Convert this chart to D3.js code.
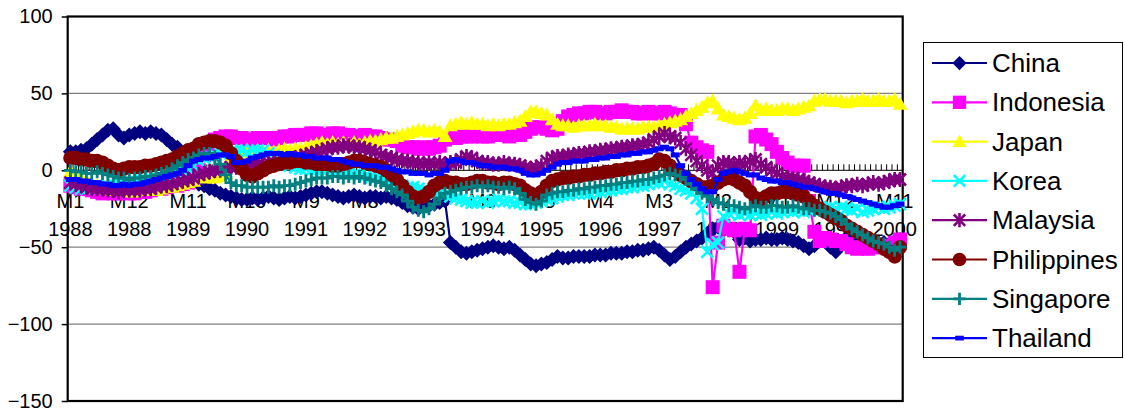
<!DOCTYPE html>
<html>
<head>
<meta charset="utf-8">
<script src="https://cdn.jsdelivr.net/npm/d3@7"></script>
<style>
  html, body { margin: 0; padding: 0; background: #fff; }
  svg { display: block; font-family: "Liberation Sans", Arial, sans-serif; }
</style>
</head>
<body>
<svg id="chart" width="1125" height="412"></svg>
<script>
// ---------- DATA ----------
const years = [1988,1989,1990,1991,1992,1993,1994,1995,1996,1997,1998,1999,2000];
const monthNames = ["M1","M2","M3","M4","M5","M6","M7","M8","M9","M10","M11","M12"];
const categories = years.flatMap(y => monthNames.map(m => m + " " + y));

const tickLabels = ["M1 1988","M12 1988","M11 1989","M10 1990","M9 1991","M8 1992","M7 1993",
  "M6 1994","M5 1995","M4 1996","M3 1997","M2 1998","M1 1999","M12 1999","M11 2000"];

const yTicks = [100, 50, 0, -50, -100, -150];

const seriesNames = ["China","Indonesia","Japan","Korea","Malaysia","Philippines","Singapore","Thailand"];

const china = [
  12,12,13,14,17,20,23,26,27,23,21,23,
  24,25,24,25,24,23,20,17,15,11,4,-5,
  -9,-10,-12,-13,-15,-16,-17,-18,-19,-19,-18,-19,
  -18,-17,-18,-19,-18,-17,-18,-17,-16,-15,-14,-14,
  -15,-16,-17,-18,-17,-16,-17,-18,-17,-17,-18,-17,
  -18,-19,-21,-23,-24,-25,-24,-23,-22,-21,-20,-47,
  -50,-53,-54,-53,-52,-51,-50,-49,-50,-51,-50,-52,
  -55,-58,-61,-62,-61,-60,-58,-56,-57,-57,-56,-56,
  -56,-56,-55,-55,-55,-54,-54,-54,-53,-53,-52,-52,
  -51,-50,-52,-55,-58,-56,-53,-50,-48,-46,-44,-41,
  -38,-37,-36,-38,-40,-45,-44,-46,-45,-45,-44,-45,
  -45,-44,-45,-46,-47,-49,-51,-49,-46,-45,-50,-53,
  -47,-44,-46,-48,-47,-48,-49,-48,-47,-48,-46,-45
];
const indonesia = [
  -10,-11,-12,-12,-13,-14,-15,-14,-15,-15,-14,-15,
  -15,-14,-14,-13,-12,-12,-11,-10,-10,-9,-8,-6,
  0,10,17,20,21,22,22,21,21,20,20,21,
  21,21,20,21,22,22,23,23,23,24,24,23,
  23,24,24,23,23,22,22,23,22,22,21,20,
  20,19,16,15,15,14,15,14,15,16,20,21,
  21,22,22,22,23,22,22,23,23,23,22,23,
  23,25,27,28,28,27,26,27,32,35,36,37,
  37,38,38,37,37,38,38,39,38,38,37,37,
  38,37,37,38,37,36,36,30,18,15,13,12,
  -76,-47,-36,-38,-39,-66,-38,-39,22,23,20,17,
  12,8,5,3,3,3,-20,-40,-46,-44,-45,-46,
  -46,-48,-50,-51,-50,-51,-50,-50,-49,-50,-47,-45
];
const japan = [
  -1,-3,-5,-7,-9,-10,-11,-12,-13,-13,-13,-14,
  -14,-13,-13,-12,-13,-12,-11,-11,-10,-9,-8,-7,
  -4,-5,-3,-5,-4,-2,8,11,12,13,12,13,
  12,13,12,13,14,13,14,14,15,16,17,18,
  17,18,17,18,17,18,17,18,19,19,20,21,
  21,22,23,24,25,26,26,25,26,25,22,29,
  30,31,30,31,30,30,29,30,29,30,30,31,
  32,35,38,38,37,36,33,30,29,29,28,29,
  29,29,30,29,29,28,28,27,27,27,27,28,
  28,28,29,30,31,32,33,35,37,39,41,44,
  45,40,36,35,34,33,34,37,42,39,40,39,
  39,40,40,39,40,41,42,45,46,46,45,45,
  45,44,45,45,46,45,45,46,45,45,46,43
];
const korea = [
  -10,-11,-12,-12,-11,-12,-11,-10,-9,-9,-8,-7,
  -7,-6,-6,-5,-5,-4,-3,-2,-1,0,1,3,
  6,8,9,10,11,12,12,13,13,12,13,13,
  13,11,9,7,5,3,2,1,1,0,0,0,
  0,-1,-1,-2,-2,-3,-3,-4,-5,-5,-6,-7,
  -8,-9,-10,-11,-11,-12,-13,-14,-15,-15,-16,-17,
  -18,-19,-20,-21,-21,-20,-21,-20,-19,-20,-20,-21,
  -21,-22,-22,-21,-20,-19,-18,-17,-16,-16,-15,-15,
  -15,-15,-14,-14,-13,-13,-12,-12,-11,-11,-10,-10,
  -9,-8,-8,-7,-9,-10,-12,-13,-15,-18,-25,-53,
  -48,-47,-30,-28,-27,-29,-28,-29,-28,-29,-28,-27,
  -28,-27,-26,-27,-26,-27,-26,-25,-26,-25,-24,-25,
  -24,-25,-26,-25,-27,-26,-25,-24,-25,-24,-23,-22
];
const malaysia = [
  -8,-9,-10,-11,-12,-12,-12,-13,-13,-14,-13,-13,
  -13,-13,-12,-12,-11,-10,-10,-9,-8,-7,-6,-5,
  -3,-2,-1,0,0,1,2,2,3,3,4,4,
  4,5,5,6,7,7,8,9,10,11,12,13,
  14,15,15,16,16,15,15,14,13,12,10,9,
  8,7,6,6,5,5,4,5,4,5,4,5,
  5,7,9,8,6,5,5,4,4,5,4,4,
  3,2,1,2,3,6,8,9,9,10,10,11,
  11,12,12,13,13,14,14,15,15,16,16,17,
  18,20,22,24,22,21,18,14,10,6,3,0,
  -2,3,5,5,4,5,4,6,7,4,2,0,
  -2,-4,-5,-5,-6,-7,-8,-9,-10,-11,-11,-12,
  -11,-10,-10,-9,-10,-9,-8,-9,-8,-7,-6,-6
];
const philippines = [
  8,8,7,7,6,6,5,3,1,0,1,2,
  2,2,3,3,4,5,6,7,9,11,13,14,
  17,18,19,19,18,16,11,6,1,-3,-4,-2,
  0,2,3,4,5,5,6,6,5,5,4,4,
  4,3,3,4,5,6,6,5,4,3,2,0,
  -3,-6,-10,-14,-17,-18,-17,-14,-10,-8,-7,-8,
  -8,-9,-9,-8,-7,-7,-8,-8,-9,-8,-8,-9,
  -10,-13,-15,-16,-14,-10,-7,-6,-5,-5,-4,-4,
  -3,-3,-2,-2,-1,-1,0,0,1,1,2,2,
  3,4,7,6,3,0,-3,-5,-7,-9,-11,-11,
  -10,-8,-6,-5,-6,-8,-10,-14,-18,-19,-17,-15,
  -15,-14,-14,-15,-16,-17,-20,-23,-25,-27,-29,-31,
  -33,-36,-38,-40,-42,-44,-46,-48,-51,-53,-56,-50
];
const singapore = [
  0,-1,-1,-2,-2,-1,-2,-3,-4,-5,-5,-6,
  -5,-5,-4,-4,-3,-2,-1,1,3,5,7,8,
  10,11,11,9,4,-3,-8,-10,-10,-11,-11,-11,
  -11,-11,-10,-11,-10,-10,-9,-8,-7,-6,-5,-5,
  -5,-4,-4,-5,-4,-5,-4,-5,-6,-7,-8,-10,
  -12,-14,-16,-20,-24,-26,-27,-25,-22,-18,-15,-14,
  -13,-12,-11,-11,-10,-11,-10,-11,-11,-12,-11,-12,
  -15,-19,-21,-22,-20,-16,-15,-14,-14,-13,-13,-12,
  -12,-11,-11,-10,-10,-9,-9,-8,-8,-7,-7,-6,
  -6,-5,-4,-3,-2,-3,-4,-6,-9,-12,-15,-17,
  -19,-21,-22,-23,-23,-24,-25,-24,-23,-24,-24,-23,
  -23,-24,-24,-23,-24,-25,-25,-26,-26,-27,-28,-30,
  -32,-35,-38,-40,-42,-44,-46,-47,-48,-50,-52,-50
];
const thailand = [
  -6,-6,-7,-7,-8,-8,-9,-9,-10,-10,-9,-10,
  -9,-9,-8,-7,-6,-5,-4,-3,-2,0,3,6,
  7,8,8,9,10,10,9,5,5,6,8,9,
  10,11,11,11,10,11,10,10,9,9,8,8,
  8,7,7,6,5,4,4,3,3,3,2,2,
  1,0,-1,-1,-2,-2,-2,-3,-2,-2,0,6,
  7,6,5,5,4,3,3,2,2,2,1,1,
  0,-2,-3,-3,-2,0,2,4,5,5,6,6,
  6,7,7,8,8,9,9,10,10,11,11,12,
  12,13,14,15,14,10,3,-2,-6,-9,-12,-14,
  -14,-6,-2,-1,0,-1,-2,-3,-3,-5,-6,-7,
  -7,-8,-8,-9,-10,-11,-11,-12,-13,-14,-15,-15,
  -16,-17,-18,-19,-20,-21,-22,-23,-24,-24,-23,-22
];

const seriesValues = [china, indonesia, japan, korea, malaysia, philippines, singapore, thailand];
const seriesColors = ["#000080","#FF00FF","#FFFF00","#00FFFF","#800080","#800000","#008080","#0000FF"];
const seriesMarkers = ["diamond","square","triangle","x","star","circle","plus","dash"];

// ---------- LAYOUT ----------
const svg = d3.select("#chart");
const plot = { left: 67.7, right: 902.7, top: 16.5, bottom: 401 };

svg.append("rect").attr("width",1125).attr("height",412).attr("fill","#fff");

const x = d3.scaleBand().domain(categories).range([plot.left, plot.right]).padding(0);
const cx = c => x(c) + x.bandwidth()/2;
const y = d3.scaleLinear().domain([-150, 100]).range([plot.bottom, plot.top]);

// gridlines
svg.append("g").selectAll("line").data(yTicks.filter(v => v !== 100 && v !== -150 && v !== 0))
  .join("line")
  .attr("x1", plot.left).attr("x2", plot.right)
  .attr("y1", d => y(d)).attr("y2", d => y(d))
  .attr("stroke", "#808080").attr("stroke-width", 1.2);

// y axis labels + ticks
const yAxis = d3.axisLeft(y).tickValues(yTicks).tickSize(6).tickPadding(9).tickFormat(d3.format("d"));
const gy = svg.append("g").attr("transform", `translate(${plot.left},0)`).call(yAxis);
gy.select(".domain").remove();
gy.selectAll(".tick line").attr("stroke","#000").attr("stroke-width",1.5);
gy.selectAll(".tick text").attr("font-size", 20).attr("fill","#000")
  .attr("font-family", "'Liberation Sans', Arial, sans-serif");

// category axis at 0
const y0 = y(0);
svg.append("line").attr("x1", plot.left).attr("x2", plot.right)
  .attr("y1", y0).attr("y2", y0).attr("stroke", "#000").attr("stroke-width", 1);
svg.append("g").selectAll("line").data(categories.concat(["__end"]))
  .join("line")
  .attr("x1", (d,i) => plot.left + i * x.bandwidth())
  .attr("x2", (d,i) => plot.left + i * x.bandwidth())
  .attr("y1", y0 - 6).attr("y2", y0)
  .attr("stroke", "#000").attr("stroke-width", 1);

// category tick labels (two lines)
const lab = svg.append("g").selectAll("text").data(tickLabels).join("text")
  .attr("x", d => cx(d)).attr("text-anchor", "middle")
  .attr("font-size", 20).attr("fill", "#000");
lab.append("tspan").attr("x", d => cx(d)).attr("y", y0 + 38).text(d => d.split(" ")[0]);
lab.append("tspan").attr("x", d => cx(d)).attr("y", y0 + 66).text(d => d.split(" ")[1]);

// plot border
svg.append("rect").attr("x", plot.left).attr("y", plot.top)
  .attr("width", plot.right - plot.left).attr("height", plot.bottom - plot.top)
  .attr("fill", "none").attr("stroke", "#000").attr("stroke-width", 2.2);

// ---------- MARKERS ----------
function drawMarker(g, type, color, px, py, scale) {
  const s = scale || 1;
  if (type === "diamond") {
    const r = 7.5*s;
    g.append("path").attr("d", `M${px},${py-r}L${px+r},${py}L${px},${py+r}L${px-r},${py}Z`).attr("fill", color);
  } else if (type === "square") {
    const r = 7*s;
    g.append("rect").attr("x", px-r).attr("y", py-r).attr("width", 2*r).attr("height", 2*r).attr("fill", color);
  } else if (type === "triangle") {
    const r = 7.5*s;
    g.append("path").attr("d", `M${px},${py-r}L${px+r},${py+r*0.75}L${px-r},${py+r*0.75}Z`).attr("fill", color);
  } else if (type === "circle") {
    g.append("circle").attr("cx", px).attr("cy", py).attr("r", 7.2*s).attr("fill", color);
  } else if (type === "x") {
    const r = 6*s;
    g.append("path").attr("d", `M${px-r},${py-r}L${px+r},${py+r}M${px-r},${py+r}L${px+r},${py-r}`)
      .attr("stroke", color).attr("stroke-width", 2.6).attr("fill", "none");
  } else if (type === "star") {
    const r = 6*s;
    g.append("path").attr("d", `M${px-r},${py-r}L${px+r},${py+r}M${px-r},${py+r}L${px+r},${py-r}M${px},${py-r*1.25}L${px},${py+r*1.25}`)
      .attr("stroke", color).attr("stroke-width", 2.6).attr("fill", "none");
  } else if (type === "plus") {
    const r = 6.5*s;
    g.append("path").attr("d", `M${px-r},${py}L${px+r},${py}M${px},${py-r}L${px},${py+r}`)
      .attr("stroke", color).attr("stroke-width", 2.8).attr("fill", "none");
  } else if (type === "dash") {
    g.append("rect").attr("x", px-4.5*s).attr("y", py-2.5*s).attr("width", 9*s).attr("height", 5*s).attr("fill", color);
  }
}

// ---------- SERIES ----------
const line = d3.line().x((d,i) => cx(categories[i])).y(d => y(d));
seriesValues.forEach((vals, si) => {
  const g = svg.append("g");
  g.append("path").datum(vals).attr("d", line)
    .attr("fill", "none").attr("stroke", seriesColors[si]).attr("stroke-width", 2.2);
  vals.forEach((v, i) => drawMarker(g, seriesMarkers[si], seriesColors[si], cx(categories[i]), y(v)));
});

// ---------- LEGEND ----------
const leg = svg.append("g");
leg.append("rect").attr("x", 923.5).attr("y", 42.5).attr("width", 199).attr("height", 315)
  .attr("fill", "#fff").attr("stroke", "#000").attr("stroke-width", 1);
seriesNames.forEach((name, i) => {
  const ly = 63 + i * 39.3;
  leg.append("line").attr("x1", 932).attr("x2", 987).attr("y1", ly).attr("y2", ly)
    .attr("stroke", seriesColors[i]).attr("stroke-width", 2.2);
  drawMarker(leg, seriesMarkers[i], seriesColors[i], 959.5, ly, 0.95);
  leg.append("text").attr("x", 992).attr("y", ly + 9).attr("font-size", 26)
    .attr("fill", "#000").text(name);
});
</script>
</body>
</html>
